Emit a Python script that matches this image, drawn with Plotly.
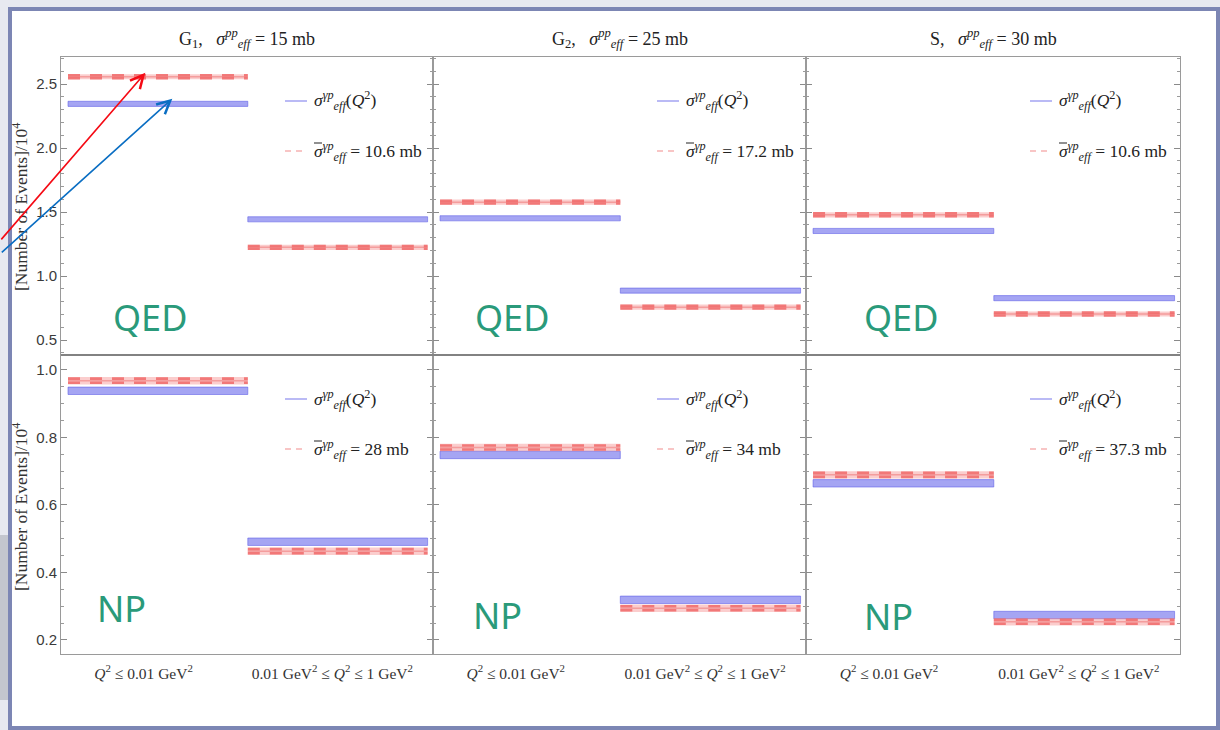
import plotly.graph_objects as go

# ---- data -------------------------------------------------------------
models = ["G<sub>1</sub>", "G<sub>2</sub>", "S"]
sigma_pp = [15, 25, 30]                      # sigma_eff^pp in mb
q2_bins = ["<i>Q</i><sup>2</sup> ≤ 0.01 GeV<sup>2</sup>",
           "0.01 GeV<sup>2</sup> ≤ <i>Q</i><sup>2</sup> ≤ 1 GeV<sup>2</sup>"]
processes = ["QED", "NP"]

# events / 10^4 for the Q^2-dependent sigma_eff (blue) and the averaged one (red)
qed_q2dep = [[2.345, 1.443], [1.451, 0.886], [1.352, 0.827]]
qed_mean = [[2.557, 1.224], [1.577, 0.757], [1.478, 0.703]]
np_q2dep = [[0.938, 0.491], [0.748, 0.319], [0.664, 0.274]]
np_mean = [[0.968, 0.463], [0.770, 0.294], [0.689, 0.254]]

# half-width of the uncertainty bands
qed_band = 0.02
np_band = 0.011

# averaged sigma_eff^{gamma p} values in mb (legend)
qed_sigma_bar = ["10.6", "17.2", "10.6"]
np_sigma_bar = ["28", "34", "37.3"]

# ---- geometry ---------------------------------------------------------
W, H = 1220, 730
col_px = [(61, 433), (433, 806), (806, 1180)]
row_px = [(57, 355), (355, 654)]
y_ranges = [[0.383, 2.711], [0.1585, 1.044]]
x_range = [-0.039, 2.03]
seg_x = [(0, 1), (1, 2)]
tick_pos = [0.42, 1.47]


def px(x):
    return x / W


def py(y):
    return 1 - y / H


BLUE_FILL = "rgba(105,105,235,0.60)"
BLUE_EDGE = "rgba(90,90,230,0.55)"
RED_FILL = "rgba(245,130,130,0.40)"
RED_DASH = "rgba(240,105,105,0.85)"
RED_MID = "rgba(240,130,130,0.65)"
TEAL = "#2a9a7a"
SERIF = "Liberation Serif, Times New Roman, serif"
SANS = "Liberation Sans, Arial, sans-serif"

fig = go.Figure()
layout = {}


def axis_names(r, c):
    idx = r * 3 + c + 1
    s = "" if idx == 1 else str(idx)
    return idx, "x" + s, "y" + s


for r in range(2):
    q2dep = qed_q2dep if r == 0 else np_q2dep
    mean = qed_mean if r == 0 else np_mean
    band = qed_band if r == 0 else np_band
    for c in range(3):
        idx, xn, yn = axis_names(r, c)
        for k, (x0, x1) in enumerate(seg_x):
            # blue band: Q^2-dependent sigma_eff
            v = q2dep[c][k]
            fig.add_trace(go.Scatter(
                x=[x0, x1, x1, x0, x0], y=[v - band, v - band, v + band, v + band, v - band],
                mode="lines", fill="toself", fillcolor=BLUE_FILL,
                line=dict(color=BLUE_EDGE, width=1), xaxis=xn, yaxis=yn,
                hoverinfo="skip", showlegend=False))
            # red band: averaged sigma_eff, dashed
            m = mean[c][k]
            fig.add_trace(go.Scatter(
                x=[x0, x1, x1, x0, x0], y=[m - band, m - band, m + band, m + band, m - band],
                mode="lines", fill="toself", fillcolor=RED_FILL,
                line=dict(color="rgba(0,0,0,0)", width=0), xaxis=xn, yaxis=yn,
                hoverinfo="skip", showlegend=False))
            fig.add_trace(go.Scatter(
                x=[x0, x1], y=[m, m], mode="lines",
                line=dict(color=RED_MID, width=1.5), xaxis=xn, yaxis=yn,
                hoverinfo="skip", showlegend=False))
            for edge in (m - band * 0.55, m + band * 0.55):
                fig.add_trace(go.Scatter(
                    x=[x0, x1], y=[edge, edge], mode="lines",
                    line=dict(color=RED_DASH, width=2.6, dash="12px,10px"),
                    xaxis=xn, yaxis=yn, hoverinfo="skip", showlegend=False))

        xl, xr = col_px[c]
        yt, yb = row_px[r]
        layout["xaxis" + xn[1:]] = dict(
            domain=[px(xl), px(xr)], range=x_range, anchor=yn,
            showline=True, mirror=True, linecolor="#9a9a9a", linewidth=1,
            showgrid=False, zeroline=False, ticks="",
            tickvals=tick_pos, ticktext=q2_bins, showticklabels=(r == 1),
            ticklabelstandoff=5,
            tickfont=dict(family=SERIF, size=15.5, color="#333"))
        layout["yaxis" + yn[1:]] = dict(
            domain=[py(yb), py(yt)], range=y_ranges[r], anchor=xn,
            showline=True, mirror="ticks", linecolor="#9a9a9a", linewidth=1,
            showgrid=False, zeroline=False,
            ticks="inside", ticklen=6, tickcolor="#8a8a8a", tickwidth=1,
            dtick=0.5 if r == 0 else 0.2, tick0=0, tickformat=".1f",
            minor=dict(ticks="inside", ticklen=3, tickcolor="#9a9a9a",
                       dtick=0.1 if r == 0 else 0.05),
            showticklabels=(c == 0),
            tickfont=dict(family=SANS, size=15, color="#3a3a3a"))

annotations = []
shapes = []

# window frame
shapes.append(dict(type="rect", xref="paper", yref="paper", layer="below",
                   x0=0, x1=px(8), y0=py(700), y1=py(535),
                   fillcolor="#c3c6ce", line=dict(width=0)))
shapes.append(dict(type="rect", xref="paper", yref="paper", layer="below",
                   x0=px(10), x1=px(1218), y0=py(728), y1=py(9),
                   fillcolor="white", line=dict(color="#7c86b4", width=4)))
# darker line between the two rows
shapes.append(dict(type="line", xref="paper", yref="paper",
                   x0=px(61), x1=px(1180), y0=py(355), y1=py(355),
                   line=dict(color="#6a6a6a", width=1.2)))

# column titles
for c in range(3):
    xl, xr = col_px[c]
    annotations.append(dict(
        xref="paper", yref="paper", x=px((xl + xr) / 2), y=py(38),
        text=f"{models[c]},   <i>σ</i><sup><i>pp</i></sup><sub><i>eff</i></sub> = {sigma_pp[c]} mb",
        showarrow=False, font=dict(family=SERIF, size=18, color="#222"),
        xanchor="center", yanchor="middle"))

# in-panel legends and process labels
label_pos = [[(150, 317), (512, 317), (901, 317)],
             [(121, 608), (498, 615), (888, 616)]]
for r in range(2):
    bars = qed_sigma_bar if r == 0 else np_sigma_bar
    for c in range(3):
        xl, _ = col_px[c]
        yt, _ = row_px[r]
        lx0, lx1 = xl + 224, xl + 246
        y_blue, y_red = yt + 44, yt + 94
        tx = lx1 + 5
        shapes.append(dict(type="line", xref="paper", yref="paper",
                           x0=px(lx0), x1=px(lx1), y0=py(y_blue), y1=py(y_blue),
                           line=dict(color="rgba(120,120,235,0.85)", width=1.2)))
        shapes.append(dict(type="line", xref="paper", yref="paper",
                           x0=px(lx0), x1=px(lx1), y0=py(y_red), y1=py(y_red),
                           line=dict(color="rgba(240,120,120,0.85)", width=1.2, dash="6px,5px")))
        # bar over the averaged sigma
        shapes.append(dict(type="line", xref="paper", yref="paper",
                           x0=px(tx + 2), x1=px(tx + 10), y0=py(y_red - 8), y1=py(y_red - 8),
                           line=dict(color="#222", width=1)))
        annotations.append(dict(
            xref="paper", yref="paper", x=px(tx), y=py(y_blue),
            text="<i>σ</i><sup><i>γp</i></sup><sub><i>eff</i></sub>(<i>Q</i><sup>2</sup>)",
            showarrow=False, xanchor="left", yanchor="middle",
            font=dict(family=SERIF, size=17.5, color="#222")))
        annotations.append(dict(
            xref="paper", yref="paper", x=px(tx), y=py(y_red),
            text=f"<i>σ</i><sup><i>γp</i></sup><sub><i>eff</i></sub> = {bars[c]} mb",
            showarrow=False, xanchor="left", yanchor="middle",
            font=dict(family=SERIF, size=17.5, color="#222")))
        lx, ly = label_pos[r][c]
        annotations.append(dict(
            xref="paper", yref="paper", x=px(lx), y=py(ly), text=processes[r],
            showarrow=False, xanchor="center", yanchor="middle",
            font=dict(family="Noto Sans, sans-serif", size=36, color=TEAL)))

# y-axis titles
for yc in (207, 507):
    annotations.append(dict(
        xref="paper", yref="paper", x=px(20), y=py(yc),
        text="[Number of Events]/10<sup>4</sup>", textangle=-90,
        showarrow=False, xanchor="center", yanchor="middle",
        font=dict(family=SERIF, size=17.5, color="#333")))

# arrows pointing at the G1 / QED first-bin bands
annotations.append(dict(
    xref="x", yref="y", x=0.43, y=qed_mean[0][0] + 0.03, ax=-146, ay=168,
    text="", showarrow=True, arrowhead=5, arrowsize=1.6, arrowwidth=1.6,
    arrowcolor="rgb(245,10,20)", standoff=0))
annotations.append(dict(
    xref="x", yref="y", x=0.58, y=qed_q2dep[0][0] + 0.04, ax=-172, ay=155,
    text="", showarrow=True, arrowhead=5, arrowsize=1.6, arrowwidth=1.6,
    arrowcolor="rgb(10,110,195)", standoff=0))

fig.update_layout(
    width=W, height=H, margin=dict(l=0, r=0, t=0, b=0),
    paper_bgcolor="#e7e9f0", plot_bgcolor="rgba(0,0,0,0)",
    showlegend=False, shapes=shapes, annotations=annotations, **layout)

fig.write_html("out.html")
